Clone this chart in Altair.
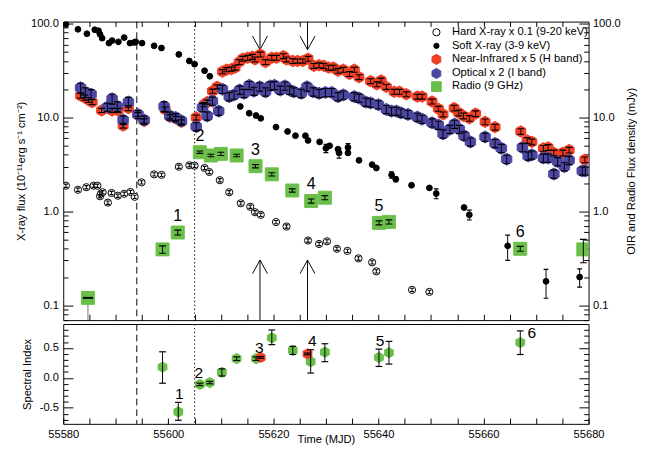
import altair as alt
import pandas as pd

FONT = "Liberation Sans"
RED = "#ee4026"
BLUE = "#4b47a3"
GREEN = "#6abf4a"

X_MIN, X_MAX = 55580, 55680
Y_MIN, Y_MAX = 0.0695, 105.0
A_MIN, A_MAX = -0.77, 0.9
W, H_TOP, H_BOT = 542, 308, 103

# ---------------- data ----------------
# Soft X-ray (3-9 keV)
soft_t = [55580.5, 55582.8, 55584.5, 55586.0, 55586.7, 55587.0, 55587.4, 55588.7, 55589.3, 55590.5,
          55591.6, 55592.7, 55593.5, 55593.8, 55595.0, 55597.3, 55598.7, 55602.0, 55604.0, 55605.0,
          55606.9, 55607.9, 55613.7, 55615.4, 55616.7, 55617.6, 55620.5, 55622.7, 55624.2, 55626.1,
          55626.6, 55628.8, 55630.0, 55630.7, 55632.3, 55632.5, 55634.2, 55634.2, 55636.3, 55638.8,
          55639.6, 55642.5, 55643.3, 55646.3, 55649.7, 55651.0, 55656.3, 55657.3, 55664.6, 55671.9,
          55678.3]
soft_v = [98, 87, 78, 86, 84, 77, 70, 62, 66, 64,
          71, 62, 63, 64, 62, 58, 55, 47, 40, 37,
          31.5, 27.5, 13.1, 11.1, 10.5, 9.8, 7.9, 7.1, 6.4, 6.4,
          5.7, 5.5, 4.7, 5.0, 4.6, 4.2, 4.8, 4.2, 3.5, 3.15,
          2.9, 2.45, 2.2, 1.9, 1.78, 1.55, 1.1, 0.92, 0.43, 0.18,
          0.20]
soft_err = [0, 0, 0, 0, 0, 0, 0, 0, 0, 0,
            0, 0, 0, 0, 0, 0, 0, 0, 0, 0,
            0, 0, 0, 0, 0, 0, 0, 0, 0, 0,
            0, 0, 0.10, 0, 0, 0.12, 0.10, 0, 0, 0,
            0, 0.08, 0.06, 0, 0, 0.12, 0, 0.12, 0.30, 0.34,
            0.22]

# Hard X-ray x 0.1 (9-20 keV)
hard_t = [55580.5, 55582.8, 55584.4, 55585.8, 55586.5, 55587.0, 55587.2, 55587.5, 55588.5, 55589.2,
          55590.4, 55591.6, 55592.8, 55593.6, 55594.9, 55597.3, 55598.7, 55602.0, 55604.0, 55605.0,
          55606.9, 55607.8, 55609.8, 55611.6, 55613.8, 55615.6, 55616.5, 55617.6, 55620.5, 55622.5,
          55626.6, 55628.7, 55630.2, 55632.1, 55634.1, 55636.2, 55638.8, 55639.6, 55646.4, 55649.7]
hard_v = [1.88, 1.70, 1.81, 1.88, 1.88, 1.45, 1.55, 1.60, 1.24, 1.57,
          1.47, 1.54, 1.61, 1.43, 2.04, 2.48, 2.45, 2.99, 3.10, 3.07,
          2.90, 2.63, 2.15, 1.60, 1.22, 1.12, 0.98, 0.92, 0.77, 0.69,
          0.49, 0.45, 0.48, 0.40, 0.38, 0.316, 0.287, 0.23, 0.146, 0.139]
hard_err = [0.04, 0.04, 0.04, 0.04, 0.04, 0.04, 0.04, 0.04, 0.04, 0.04,
            0.04, 0.04, 0.04, 0.04, 0.04, 0.04, 0.04, 0.04, 0.04, 0.04,
            0.04, 0.04, 0.04, 0.04, 0.04, 0.04, 0.04, 0.04, 0.04, 0.04,
            0.04, 0.04, 0.04, 0.04, 0.04, 0.04, 0.04, 0.04, 0.04, 0.04]

# Near-infrared x 5 (H band)
nir_t = [55583.3, 55584.1, 55584.8, 55585.5, 55587.3, 55589.3, 55590.4, 55591.4, 55592.4, 55594.2,
         55595.4, 55599.4, 55600.3, 55601.4, 55602.5, 55605.3, 55606.8, 55607.4, 55608.4, 55609.3,
         55610.3, 55611.1, 55612.0, 55612.7, 55613.5, 55614.2, 55615.1, 55616.0, 55616.5, 55617.5,
         55618.5, 55619.7, 55620.6, 55621.9, 55622.5, 55623.7, 55624.6, 55625.6, 55626.6, 55627.7,
         55628.7, 55629.6, 55630.5, 55631.4, 55632.3, 55633.3, 55634.5, 55635.4, 55636.3, 55638.5,
         55639.7, 55640.5, 55641.5, 55643.0, 55644.0, 55645.3, 55647.4, 55648.3, 55650.2, 55651.4,
         55652.3, 55654.4, 55655.3, 55656.2, 55657.3, 55658.5, 55660.3, 55662.2, 55667.1, 55668.3,
         55669.2, 55671.4, 55672.3, 55673.4, 55675.1, 55676.3, 55679.3]
nir_v = [17.1, 16.3, 15.4, 14.6, 11.9, 11.9, 11.9, 8.2, 12.6, 10.8,
         9.2, 12.2, 10.2, 9.8, 9.0, 10.0, 13.7, 14.6, 19.1, 21.2,
         30.8, 32.3, 32.8, 34.0, 39.0, 42.3, 43.3, 44.3, 41.6, 46.9,
         39.0, 43.3, 43.3, 45.0, 41.6, 40.0, 40.0, 40.0, 42.3, 35.5,
         36.0, 35.5, 34.0, 34.0, 31.5, 32.3, 29.1, 32.3, 26.9, 24.4,
         22.6, 24.8, 21.2, 18.8, 18.8, 17.7, 16.7, 16.7, 14.8, 12.4,
         10.8, 12.6, 11.2, 10.4, 9.8, 11.0, 9.0, 7.9, 7.1, 5.7,
         5.5, 4.7, 4.8, 4.2, 4.2, 4.5, 3.55]
nir_err = [0.06, 0.06, 0.06, 0.06, 0.05, 0.05, 0.05, 0.06, 0.06, 0.05,
           0.05, 0.06, 0.05, 0.05, 0.05, 0.06, 0.05, 0.05, 0.05, 0.05,
           0.05, 0.05, 0.05, 0.06, 0.06, 0.06, 0.06, 0.06, 0.06, 0.06,
           0.06, 0.06, 0.06, 0.06, 0.06, 0.06, 0.05, 0.05, 0.06, 0.06,
           0.06, 0.06, 0.06, 0.06, 0.06, 0.06, 0.06, 0.06, 0.06, 0.06,
           0.06, 0.06, 0.06, 0.06, 0.06, 0.06, 0.06, 0.06, 0.06, 0.06,
           0.06, 0.07, 0.07, 0.07, 0.07, 0.07, 0.07, 0.07, 0.07, 0.07,
           0.07, 0.07, 0.07, 0.07, 0.07, 0.07, 0.07]

# Optical x 2 (I band)
opt_t = [55583.3, 55584.2, 55585.3, 55588.4, 55589.3, 55590.3, 55591.4, 55592.4, 55594.2, 55595.4,
         55599.2, 55600.3, 55601.4, 55602.5, 55605.3, 55606.5, 55607.4, 55608.4, 55609.6, 55610.3,
         55611.6, 55612.5, 55613.6, 55614.4, 55615.4, 55616.3, 55617.4, 55618.5, 55619.4, 55620.2,
         55621.3, 55622.2, 55623.1, 55623.9, 55625.3, 55626.4, 55627.6, 55628.7, 55629.9, 55631.1,
         55632.3, 55633.3, 55635.4, 55636.3, 55637.6, 55638.5, 55640.0, 55641.5, 55642.5, 55643.4,
         55644.3, 55645.6, 55647.4, 55648.3, 55650.2, 55651.4, 55652.3, 55653.6, 55654.5, 55655.4,
         55656.3, 55657.5, 55660.3, 55662.2, 55663.4, 55664.4, 55667.4, 55668.5, 55669.2, 55671.4,
         55672.3, 55673.4, 55674.1, 55675.4, 55676.3, 55678.8, 55679.4]
opt_v = [20.7, 18.5, 17.7, 12.9, 15.8, 13.1, 9.4, 14.6, 10.8, 9.4,
         13.1, 10.4, 10.0, 9.2, 8.0, 12.8, 10.4, 15.0, 11.7, 20.0,
         16.7, 17.4, 19.6, 18.1, 22.0, 19.1, 21.2, 18.8, 21.7, 22.0,
         19.6, 21.7, 19.6, 18.8, 18.1, 21.2, 18.8, 18.1, 18.5, 18.5,
         16.7, 17.4, 16.7, 16.1, 14.6, 14.3, 13.7, 12.2, 11.7, 11.7,
         11.2, 10.8, 10.1, 9.6, 8.8, 8.3, 6.7, 7.5, 8.5, 7.5,
         6.4, 5.5, 6.2, 5.3, 4.7, 3.6, 4.8, 3.9, 4.0, 3.7,
         3.7, 2.5, 3.4, 3.0, 3.5, 2.7, 2.7]
opt_err = [0.12, 0.12, 0.12, 0.10, 0.12, 0.12, 0.10, 0.12, 0.10, 0.10,
           0.12, 0.10, 0.10, 0.10, 0.10, 0.10, 0.10, 0.10, 0.10, 0.10,
           0.10, 0.10, 0.10, 0.10, 0.10, 0.10, 0.10, 0.10, 0.10, 0.10,
           0.10, 0.10, 0.10, 0.10, 0.10, 0.10, 0.10, 0.10, 0.10, 0.10,
           0.10, 0.10, 0.10, 0.10, 0.10, 0.10, 0.10, 0.10, 0.10, 0.10,
           0.10, 0.10, 0.10, 0.10, 0.10, 0.10, 0.10, 0.10, 0.10, 0.10,
           0.10, 0.10, 0.10, 0.10, 0.10, 0.10, 0.10, 0.10, 0.10, 0.10,
           0.10, 0.10, 0.10, 0.10, 0.10, 0.10, 0.10]

# Radio (9 GHz)
radio_t = [55584.7, 55598.9, 55601.8, 55606.0, 55608.1, 55610.0, 55613.0, 55616.6, 55619.7, 55623.6,
           55627.2, 55629.8, 55640.1, 55642.0, 55667.0, 55679.0]
radio_v = [0.12, 0.394, 0.596, 4.27, 3.94, 4.1, 3.94, 3.03, 2.48, 1.67,
           1.29, 1.40, 0.755, 0.773, 0.40, 0.394]
radio_err = [0, 0.09, 0.06, 0.03, 0.03, 0.04, 0.03, 0.04, 0.04, 0.04,
             0.05, 0.05, 0.05, 0.05, 0.06, 0.28]
radio_limit_t = [55584.7]
radio_limit_v = [0.12]

# numbered radio epochs
epoch_labels = ["1", "2", "3", "4", "5", "6"]
epoch_t = [55601.8, 55606.0, 55616.6, 55627.2, 55640.1, 55667.0]
epoch_v = [0.596, 4.27, 3.03, 1.29, 0.755, 0.40]

# arrows
arrow_t = [55617.45, 55626.5]
arrow_down_tip = 52.8
arrow_up_tip = 0.303

# vertical reference lines
dash_t = [55594.0]
dot_t = [55605.0]

# Spectral index panel
si_t = [55598.9, 55601.9, 55606.0, 55607.9, 55610.2, 55613.0, 55616.7, 55619.7, 55623.7, 55627.1,
        55629.8, 55640.1, 55642.0, 55667.0]
si_v = [0.18, -0.57, -0.11, -0.08, 0.09, 0.32, 0.32, 0.67, 0.46, 0.27, 0.43, 0.34, 0.42, 0.59]
si_lo = [-0.09, -0.71, -0.13, -0.10, 0.03, 0.29, 0.29, 0.555, 0.39, 0.08, 0.27, 0.19, 0.23, 0.39]
si_hi = [0.435, -0.41, -0.09, -0.06, 0.15, 0.35, 0.35, 0.80, 0.527, 0.47, 0.57, 0.48, 0.61, 0.785]
si_red_t = [55617.6, 55626.5]
si_red_v = [0.34, 0.40]
si_red_lo = [0.325, 0.385]
si_red_hi = [0.355, 0.415]
si_num_t = [55602.1, 55605.8, 55617.3, 55627.4, 55640.3, 55669.2]
si_num_v = [-0.28, 0.08, 0.50, 0.61, 0.62, 0.74]

# ---------------- styling ----------------
SERIES = ["Hard X-ray  x 0.1 (9-20 keV)", "Soft X-ray (3-9 keV)",
          "Near-Infrared x 5 (H band)", "Optical x 2 (I band)", "Radio (9 GHz)"]
HEX = "M0,-1L0.866,-0.5L0.866,0.5L0,1L-0.866,0.5L-0.866,-0.5Z"
STYLE = {
    SERIES[0]: dict(shape="circle", fill="white", stroke="black", size=55, cap=16, leg=55),
    SERIES[1]: dict(shape="circle", fill="black", stroke="black", size=36, cap=25, leg=30),
    SERIES[2]: dict(shape=HEX, fill=RED, stroke=RED, size=140, cap=49, leg=110),
    SERIES[3]: dict(shape=HEX, fill=BLUE, stroke=BLUE, size=155, cap=49, leg=110),
    SERIES[4]: dict(shape="square", fill=GREEN, stroke=GREEN, size=180, cap=49, leg=100),
}
LEG_X_SYM, LEG_X_TXT = 385, 401          # legend layout (pixels inside the top panel)
LEG_Y = [11, 25, 39, 53.5, 67]

frames = []
for name, ts, vs, es in [(SERIES[0], hard_t, hard_v, hard_err),
                         (SERIES[1], soft_t, soft_v, soft_err),
                         (SERIES[2], nir_t, nir_v, nir_err),
                         (SERIES[3], opt_t, opt_v, opt_err),
                         (SERIES[4], radio_t, radio_v, radio_err)]:
    d = pd.DataFrame({"t": ts, "v": vs, "e": es})
    d["series"] = name
    d["sz"] = STYLE[name]["size"]
    d["cap"] = STYLE[name]["cap"]
    frames.append(d)
pts = pd.concat(frames, ignore_index=True)
err = pts[pts["e"] > 0].copy()
err["lo"] = err["v"] * (1 - err["e"])
err["hi"] = err["v"] * (1 + err["e"])

XS = alt.Scale(domain=[X_MIN, X_MAX], nice=False, zero=False)
YS = alt.Scale(type="log", domain=[Y_MIN, Y_MAX], nice=False)
AS = alt.Scale(domain=[A_MIN, A_MAX], nice=False, zero=False)

def X(field="t", axis=None):
    return alt.X(f"{field}:Q", scale=XS, axis=axis)

def Y(field, scale, axis=None):
    return alt.Y(f"{field}:Q", scale=scale, axis=axis)

def inward(orient, values, size, **kw):
    return alt.Axis(orient=orient, values=values, tickSize=size, offset=-size, domain=False,
                    grid=False, tickColor="black", tickWidth=1, labelFlush=False,
                    labelOverlap=False, **kw)

x_ticks = list(range(X_MIN + 5, X_MAX, 5))
y_major = [0.1, 1, 10, 100]
y_minor = [m * d for d in (0.01, 0.1, 1, 10) for m in range(2, 10) if Y_MIN < m * d < Y_MAX]
a_major = [-0.5, 0.0, 0.5]
a_minor = [round(k / 10, 1) for k in range(-7, 9) if k % 5 != 0]

# ---------------- top panel ----------------
vline_dash = alt.Chart(pd.DataFrame({"t": dash_t})).mark_rule(
    color="black", strokeDash=[7, 4], strokeWidth=1).encode(x=X())
vline_dot = alt.Chart(pd.DataFrame({"t": dot_t})).mark_rule(
    color="#333", strokeDash=[1.5, 2.5], strokeWidth=1.2).encode(x=X())

lim_df = pd.DataFrame({"t": radio_limit_t, "v": radio_limit_v, "floor": [Y_MIN] * len(radio_limit_t)})
lim_rule = alt.Chart(lim_df).mark_rule(color="#888", strokeWidth=1.2, clip=True).encode(
    x=X(), y=Y("v", YS), y2="floor:Q")

arr_df = pd.DataFrame({"t": arrow_t, "top": [Y_MAX] * 2, "dtip": [arrow_down_tip] * 2,
                       "utip": [arrow_up_tip] * 2, "bot": [Y_MIN] * 2})
arr_down = alt.Chart(arr_df).mark_rule(color="black", strokeWidth=1).encode(
    x=X(), y=Y("top", YS), y2="dtip:Q")
arr_up = alt.Chart(arr_df).mark_rule(color="black", strokeWidth=1).encode(
    x=X(), y=Y("utip", YS), y2="bot:Q")
head_down = alt.Chart(arr_df).mark_point(
    shape="M-0.55,-1L0,0L0.55,-1", filled=False, size=784, color="black",
    strokeWidth=1, opacity=1).encode(x=X(), y=Y("dtip", YS))
head_up = alt.Chart(arr_df).mark_point(
    shape="M-0.55,1L0,0L0.55,1", filled=False, size=784, color="black",
    strokeWidth=1, opacity=1).encode(x=X(), y=Y("utip", YS))

SHAPES = [STYLE[s]["shape"] for s in SERIES]
FILLS = [STYLE[s]["fill"] for s in SERIES]
STROKES = [STYLE[s]["stroke"] for s in SERIES]

markers = alt.Chart(pts).mark_point(filled=True, opacity=1, strokeWidth=1, clip=True).encode(
    x=X(), y=Y("v", YS),
    shape=alt.Shape("series:N", scale=alt.Scale(domain=SERIES, range=SHAPES), legend=None),
    fill=alt.Fill("series:N", scale=alt.Scale(domain=SERIES, range=FILLS), legend=None),
    stroke=alt.Stroke("series:N", scale=alt.Scale(domain=SERIES, range=STROKES), legend=None),
    size=alt.Size("sz:Q", scale=None, legend=None),
)

err_rule = alt.Chart(err).mark_rule(color="black", strokeWidth=1, clip=True).encode(
    x=X(), y=Y("lo", YS), y2="hi:Q")
err_cap = alt.Chart(err).transform_fold(["lo", "hi"], as_=["end", "val"]).mark_point(
    shape="stroke", filled=False, color="black", strokeWidth=1.2, opacity=1, clip=True).encode(
    x=X(), y=Y("val", YS), size=alt.Size("cap:Q", scale=None, legend=None))
lim_cap = alt.Chart(lim_df).mark_point(shape="stroke", filled=False, color="black",
                                       strokeWidth=2, size=110, opacity=1).encode(
    x=X(), y=Y("v", YS))

num_df = pd.DataFrame({"t": epoch_t, "v": epoch_v, "lab": epoch_labels})
nums = alt.Chart(num_df).mark_text(font=FONT, fontSize=16.5, dy=-17, color="black").encode(
    x=X(), y=Y("v", YS), text="lab:N")

# manual legend
legend_layers = []
for i, name in enumerate(SERIES):
    st = STYLE[name]
    ld = pd.DataFrame({"lab": [name]})
    legend_layers.append(alt.Chart(ld).mark_point(
        shape=st["shape"], fill=st["fill"], stroke=st["stroke"], filled=True, opacity=1,
        strokeWidth=1, size=st["leg"]).encode(x=alt.value(LEG_X_SYM), y=alt.value(LEG_Y[i])))
    legend_layers.append(alt.Chart(ld).mark_text(
        font=FONT, fontSize=11.5, align="left", baseline="middle", color="black").encode(
        x=alt.value(LEG_X_TXT), y=alt.value(LEG_Y[i]), text="lab:N"))

ax_df = pd.DataFrame({"t": [X_MIN], "v": [1.0], "a": [0.0]})
top_ax1 = alt.Chart(ax_df).mark_point(opacity=0).encode(
    x=X(axis=inward("bottom", x_ticks, 6, labels=False, title=None)),
    y=Y("v", YS, inward("left", y_major, 10, format=".1f", labelPadding=5,
                         title="X-ray flux (10⁻¹¹erg s⁻¹ cm⁻²)", titlePadding=4)))
top_ax2 = alt.Chart(ax_df).mark_point(opacity=0).encode(
    x=X(axis=inward("top", x_ticks, 5, labels=False, title=None)),
    y=Y("v", YS, inward("left", y_minor, 5, labels=False, title=None)))
top_ax3 = alt.Chart(ax_df).mark_point(opacity=0).encode(
    y=Y("v", YS, inward("right", y_major, 10, format=".1f", labelPadding=4,
                         title="OIR and Radio Flux density (mJy)", titleAngle=270,
                         titleBaseline="top", titlePadding=6)))
top_ax4 = alt.Chart(ax_df).mark_point(opacity=0).encode(
    y=Y("v", YS, inward("right", y_minor, 5, labels=False, title=None)))

top = alt.layer(
    vline_dash, vline_dot, lim_rule, arr_down, arr_up, head_down, head_up,
    markers, err_rule, err_cap, lim_cap, nums, *legend_layers,
    top_ax1, top_ax2, top_ax3, top_ax4,
).resolve_axis(x="independent", y="independent").properties(width=W, height=H_TOP)

# ---------------- bottom panel ----------------
si_df = pd.concat([
    pd.DataFrame({"t": si_t, "a": si_v, "lo": si_lo, "hi": si_hi, "kind": "radio"}),
    pd.DataFrame({"t": si_red_t, "a": si_red_v, "lo": si_red_lo, "hi": si_red_hi, "kind": "nir"}),
], ignore_index=True)

b_dash = alt.Chart(pd.DataFrame({"t": dash_t})).mark_rule(
    color="black", strokeDash=[7, 4], strokeWidth=1).encode(x=X())
b_dot = alt.Chart(pd.DataFrame({"t": dot_t})).mark_rule(
    color="#333", strokeDash=[1.5, 2.5], strokeWidth=1.2).encode(x=X())
si_pts = alt.Chart(si_df).mark_point(shape=HEX, filled=True, size=135, opacity=1).encode(
    x=X(), y=Y("a", AS),
    color=alt.Color("kind:N", scale=alt.Scale(domain=["radio", "nir"], range=[GREEN, RED]),
                    legend=None))
si_rule = alt.Chart(si_df).mark_rule(color="black", strokeWidth=1).encode(
    x=X(), y=Y("lo", AS), y2="hi:Q")
si_cap = alt.Chart(si_df).transform_fold(["lo", "hi"], as_=["end", "val"]).mark_point(
    shape="stroke", filled=False, color="black", strokeWidth=1.2, size=49, opacity=1).encode(
    x=X(), y=Y("val", AS))
si_num = alt.Chart(pd.DataFrame({"t": si_num_t, "a": si_num_v, "lab": epoch_labels})).mark_text(
    font=FONT, fontSize=16, color="black").encode(x=X(), y=Y("a", AS), text="lab:N")

bot_ax1 = alt.Chart(ax_df).mark_point(opacity=0).encode(
    x=X(axis=inward("bottom", x_ticks + [X_MIN, X_MAX], 6, labelPadding=5,
                    labelExpr="datum.value % 20 === 0 ? format(datum.value, 'd') : ''",
                    title="Time (MJD)", titleBaseline="top", titleY=16)),
    y=Y("a", AS, inward("left", a_major, 10, labelPadding=5,
                         labelExpr="replace(format(datum.value, '.1f'), '−', '-')",
                         title="Spectral Index", titlePadding=7)))
bot_ax2 = alt.Chart(ax_df).mark_point(opacity=0).encode(
    y=Y("a", AS, inward("left", a_minor, 5, labels=False, title=None)))
bot_ax3 = alt.Chart(ax_df).mark_point(opacity=0).encode(
    y=Y("a", AS, inward("right", a_major, 10, labels=False, title=None)))
bot_ax4 = alt.Chart(ax_df).mark_point(opacity=0).encode(
    y=Y("a", AS, inward("right", a_minor, 5, labels=False, title=None)))

bottom = alt.layer(
    b_dash, b_dot, si_pts, si_rule, si_cap, si_num, bot_ax1, bot_ax2, bot_ax3, bot_ax4,
).resolve_axis(x="independent", y="independent").properties(width=W, height=H_BOT)

chart = alt.vconcat(top, bottom, spacing=0).properties(
    padding={"left": 7, "top": 2, "right": 0, "bottom": 0}
).configure_view(stroke="black", strokeWidth=1).configure_axis(
    labelFont=FONT, titleFont=FONT, labelFontSize=11.5, titleFontSize=11.5,
    labelColor="black", titleColor="black", titleFontWeight="normal"
)

chart.save("out.html", embed_options={"renderer": "svg", "actions": False})
